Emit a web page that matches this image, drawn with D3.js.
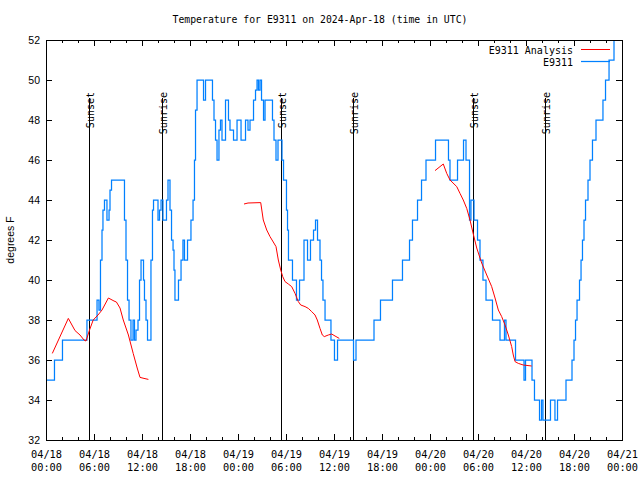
<!DOCTYPE html>
<html><head><meta charset="utf-8">
<script src="https://cdn.jsdelivr.net/npm/d3@7"></script>
<style>body{margin:0;background:#fff}</style>
</head><body>
<svg id="c" width="640" height="480"></svg>
<script>
const chartTitle = "Temperature for E9311 on 2024-Apr-18 (time in UTC)";
const yLabel = "degrees F";
const xTickHours = [0,6,12,18,24,30,36,42,48,54,60,66,72];
const xTickLabels = ["04/18\n00:00","04/18\n06:00","04/18\n12:00","04/18\n18:00","04/19\n00:00","04/19\n06:00","04/19\n12:00","04/19\n18:00","04/20\n00:00","04/20\n06:00","04/20\n12:00","04/20\n18:00","04/21\n00:00"];
const xMinorHours = d3.range(0, 73, 2);
const yTicks = [32,34,36,38,40,42,44,46,48,50,52];
const sunsetHours = [5.42, 29.42, 53.42];
const sunriseHours = [14.55, 38.42, 62.42];
const seriesNames = ["E9311 Analysis", "E9311"];

// Analysis (red) — segments separated by null
const analysisHours = [0.79,2.79,3.63,4.25,4.75,5.0,5.44,5.9,6.5,7.0,7.8,8.5,8.8,9.25,9.66,10.3,10.9,11.4,11.75,12.25,12.8,
  null,
  24.75,25.25,26.84,27.16,27.59,28.0,28.41,28.75,29.04,29.34,29.59,29.88,30.29,30.71,31.13,31.54,31.84,32.38,32.79,33.21,33.63,33.91,34.25,34.54,34.79,35.29,35.71,36.13,36.66,
  null,
  48.63,49.66,50.09,50.5,51.34,51.75,52.16,52.59,53.0,53.41,53.84,54.46,55.09,55.71,56.13,56.54,56.96,57.38,57.79,58.21,58.41,58.63,59.04,59.66,60.71];
const analysisTemps = [36.33,38.08,37.47,37.25,37.0,36.95,37.5,38.0,38.25,38.5,39.1,38.95,38.9,38.6,38.0,37.25,36.33,35.6,35.13,35.08,35.03,
  null,
  43.8,43.85,43.87,43.0,42.5,42.17,41.9,41.67,41.0,40.5,40.17,39.92,39.8,39.67,39.33,38.92,38.75,38.67,38.58,38.42,38.25,38.0,37.58,37.25,37.17,37.25,37.3,37.2,37.08,
  null,
  45.47,45.8,45.33,45.0,44.67,44.33,44.0,43.58,43.0,42.3,41.6,40.85,40.25,39.67,39.1,38.5,38.17,37.75,37.25,36.67,36.25,35.92,35.83,35.75,35.7];

// Observations (blue) — hour at which each reading begins
const obsHours = [0,1.06,2.06,5.12,6.38,6.62,6.81,7.0,7.12,7.31,7.62,7.88,8.0,8.19,9.81,10.0,10.19,10.38,10.62,10.88,11.06,11.25,11.5,11.69,11.88,12.19,12.31,12.5,12.69,
  13.12,13.31,13.44,14.0,14.19,14.38,14.62,15.06,15.25,15.5,15.69,15.88,16.0,16.12,16.56,16.88,17.12,17.31,17.69,18.12,18.38,18.56,18.69,18.88,
  19.69,19.94,20.81,21.0,21.19,21.38,21.62,21.81,22.0,22.44,22.81,23.0,23.44,23.88,24.38,24.94,25.25,25.5,25.94,26.19,26.38,26.56,26.75,26.94,27.19,27.38,
  28.31,28.5,28.75,29.0,29.5,29.69,30.06,30.19,30.31,30.81,31.31,31.69,32.25,32.69,33.06,33.44,33.69,33.94,34.25,34.44,34.62,34.88,35.62,36.06,36.44,
  38.44,38.75,41.0,41.81,43.31,44.56,45.44,45.81,46.44,46.94,47.5,48.69,50.31,50.5,51.44,52.19,52.5,52.94,53.12,53.5,53.94,54.25,54.62,55.0,55.81,
  56.75,57.31,57.5,58.69,59.75,59.94,60.75,61.06,61.69,61.94,62.12,63.06,63.62,63.94,65.0,65.75,66.0,66.19,66.38,66.69,66.88,67.06,67.25,67.44,67.75,
  68.0,68.31,68.75,69.62,69.94,70.38,71.0,71.25];
const obsTemps = [35,36,37,38,39,38.5,41,42.5,43.5,44,43,43.5,44.5,45,43,41,39,38,37,38,37,37.5,38,40,41,40,39,38,37,
  41,43.5,44,43,43.5,44,43,44,45,43.5,42,41.5,40.5,39,40,41,42,41,42,43,44,46,48.5,50,
  49,50,49,48,47,46,47.5,48,47,49,48,47.5,47,48,47,48,47.5,48,49,49.5,50,49.5,50,49,48,49,
  48,47,46,47,46,45,43.5,42.5,41,40,39,40,42,41,42,42.5,43,42,41,40,39,38,37,36,37,
  36,37,38,39,40,41,42,43,44,45,46,47,46,45,46,47,46,43,44,43,42,41,40,39,38,
  37,38,37,36,35,36,35,34,33,34,33,34,33,34,35,36,37,38,39,40,41,42,43,44,45,
  46,47,48,49,50,51,52,53];

const W = 640, H = 480;
const L = 46, R = 622, T = 40, B = 440;
const mono = "'DejaVu Sans Mono', monospace";
const sans = "'Liberation Sans', Arial, sans-serif";

const svg = d3.select("#c");
svg.append("rect").attr("width", W).attr("height", H).attr("fill", "#fff");

const x = d3.scaleLinear().domain([0, 72]).range([L, R]);
const y = d3.scaleLinear().domain([32, 52]).range([B, T]);

function clean(g){ g.select(".domain").remove(); g.selectAll("line").attr("stroke","#000").attr("shape-rendering","crispEdges"); }

// bottom axis major with labels
const gx = svg.append("g").attr("transform", `translate(0,${B})`)
  .call(d3.axisBottom(x).tickValues(xTickHours).tickSize(-6).tickPadding(0)
    .tickFormat((d,i) => xTickLabels[i]));
clean(gx);
gx.selectAll("text").each(function(){
  const t = d3.select(this); const parts = t.text().split("\n"); t.text(null);
  t.attr("y", null).attr("dy", null);
  parts.forEach((p,i) => t.append("tspan").attr("x", 0).attr("y", 17.5 + i*13).text(p));
}).attr("font-family", mono).attr("font-size", 10.3).attr("fill", "#000");
// bottom minor
const gxm = svg.append("g").attr("transform", `translate(0,${B})`)
  .call(d3.axisBottom(x).tickValues(xMinorHours.filter(h => h % 6 !== 0)).tickSize(-3).tickFormat(""));
clean(gxm);
// top mirror
const gt = svg.append("g").attr("transform", `translate(0,${T})`)
  .call(d3.axisTop(x).tickValues(xTickHours).tickSize(-6).tickFormat(""));
clean(gt);
const gtm = svg.append("g").attr("transform", `translate(0,${T})`)
  .call(d3.axisTop(x).tickValues(xMinorHours.filter(h => h % 6 !== 0)).tickSize(-3).tickFormat(""));
clean(gtm);
// left axis
const gy = svg.append("g").attr("transform", `translate(${L},0)`)
  .call(d3.axisLeft(y).tickValues(yTicks).tickSize(-6).tickPadding(6));
clean(gy);
gy.selectAll("text").attr("x", -6).attr("font-family", sans).attr("font-size", 10.5).attr("fill", "#000");
// right mirror
const gr = svg.append("g").attr("transform", `translate(${R},0)`)
  .call(d3.axisRight(y).tickValues(yTicks).tickSize(-6).tickFormat(""));
clean(gr);

// sunrise / sunset lines
const events = sunsetHours.map(h => ({h, name:"Sunset"})).concat(sunriseHours.map(h => ({h, name:"Sunrise"})));
events.forEach(e => {
  const px = Math.round(x(e.h)) + 0.5;
  svg.append("line").attr("x1", px).attr("x2", px).attr("y1", 98).attr("y2", B)
    .attr("stroke", "#000").attr("stroke-width", 1);
  svg.append("text").attr("transform", `translate(${px + 4.5},92) rotate(-90)`)
    .attr("text-anchor", "end").attr("font-family", mono).attr("font-size", 10)
    .attr("fill", "#000").text(e.name);
});

// clip
svg.append("clipPath").attr("id", "clip").append("rect")
  .attr("x", L).attr("y", T).attr("width", R - L).attr("height", B - T);

// observations
const obs = obsHours.map((h,i) => [h, obsTemps[i]]);
const obsLine = d3.line().x(d => x(d[0])).y(d => y(d[1])).curve(d3.curveStepAfter);
svg.append("path").attr("clip-path", "url(#clip)").attr("d", obsLine(obs))
  .attr("fill", "none").attr("stroke", "#0080ff").attr("stroke-width", 1.25);

// analysis
const ana = analysisHours.map((h,i) => [h, analysisTemps[i]]);
const anaLine = d3.line().defined(d => d[0] !== null && d[1] !== null)
  .x(d => x(d[0])).y(d => y(d[1]));
svg.append("path").attr("clip-path", "url(#clip)").attr("d", anaLine(ana))
  .attr("fill", "none").attr("stroke", "#ff0000").attr("stroke-width", 1);

// border
svg.append("rect").attr("x", L + 0.5).attr("y", T + 0.5).attr("width", R - L).attr("height", B - T)
  .attr("fill", "none").attr("stroke", "#000").attr("stroke-width", 1);

// title
svg.append("text").attr("x", 320).attr("y", 23).attr("text-anchor", "middle")
  .attr("font-family", mono).attr("font-size", 9.8).attr("fill", "#000").text(chartTitle);

// y label
svg.append("text").attr("transform", "translate(14,240) rotate(-90)").attr("text-anchor", "middle")
  .attr("font-family", sans).attr("font-size", 10.5).attr("fill", "#000").text(yLabel);

// legend
const legColors = ["#ff0000", "#0080ff"];
const legY = [50, 62];
seriesNames.forEach((n,i) => {
  svg.append("text").attr("x", 573).attr("y", legY[i] + 3.5).attr("text-anchor", "end")
    .attr("font-family", mono).attr("font-size", 10).attr("fill", "#000").text(n);
  svg.append("line").attr("x1", 581).attr("x2", 610).attr("y1", legY[i] - 0.5).attr("y2", legY[i] - 0.5)
    .attr("stroke", legColors[i]).attr("stroke-width", i === 1 ? 1.25 : 1);
});
</script>
</body></html>
